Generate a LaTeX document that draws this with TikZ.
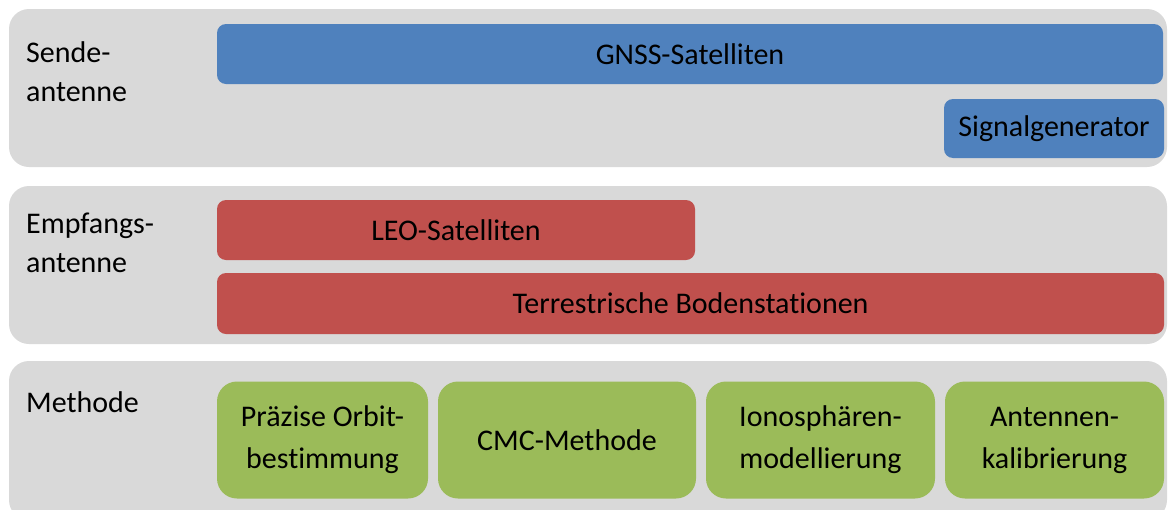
\documentclass[tikz,border=0pt]{standalone}
\usepackage{fontspec}
\setmainfont{Carlito}[Ligatures={NoCommon}]
\definecolor{panelgrey}{HTML}{D9D9D9}
\definecolor{sendblue}{HTML}{4F81BD}
\definecolor{recvred}{HTML}{C0504D}
\definecolor{methgreen}{HTML}{9BBB59}
\tikzset{
  panel/.style={fill=panelgrey, draw=none, rounded corners=20pt},
  box/.style={draw=none, rounded corners=9pt, inner sep=0pt, align=center,
    font=\fontsize{30}{42}\selectfont},
  sendbox/.style={box, fill=sendblue},
  recvbox/.style={box, fill=recvred},
  methbox/.style={box, fill=methgreen, rounded corners=20pt},
  rowlabel/.style={inner sep=0pt, align=left, anchor=north west,
    font=\fontsize{30}{39}\selectfont}
}
\begin{document}
\begin{tikzpicture}[x=1pt, y=-1pt]
  \useasboundingbox (0,0) rectangle (1170,509);
  \clip (0,0) rectangle (1170,509);

  % three grey bands
  \fill[panel] (9,9) rectangle (1167,167);
  \fill[panel] (9,186) rectangle (1167,344);
  \fill[panel] (9,361) rectangle (1167,520);

  % band titles
  \node[rowlabel] (lsend) at (26,41) {Sende-\\antenne};
  \node[rowlabel] (lrecv) at (26,213) {Empfangs-\\antenne};
  \node[rowlabel] (lmeth) at (26,391) {Methode};

  % transmitting antennas
  \node[sendbox, minimum width=946pt, minimum height=60pt] (gnss) at (690,54) {GNSS-Satelliten};
  \node[sendbox, minimum width=220pt, minimum height=59pt] (siggen) at (1054,128.5) {Signalgenerator};

  % receiving antennas
  \node[recvbox, minimum width=478pt, minimum height=60pt] (leo) at (456,230) {LEO-Satelliten};
  \node[recvbox, minimum width=947pt, minimum height=61pt] (terr) at (690.5,303.5) {Terrestrische Bodenstationen};

  % methods
  \node[methbox, minimum width=211pt, minimum height=117pt] (pod) at (322.5,440) {Präzise Orbit-\\bestimmung};
  \node[methbox, minimum width=258pt, minimum height=117pt] (cmc) at (567,440) {CMC-Methode};
  \node[methbox, minimum width=229pt, minimum height=117pt] (iono) at (820.5,440) {Ionosphären-\\modellierung};
  \node[methbox, minimum width=219pt, minimum height=117pt] (ant) at (1054.5,440) {Antennen-\\kalibrierung};
\end{tikzpicture}
\end{document}
